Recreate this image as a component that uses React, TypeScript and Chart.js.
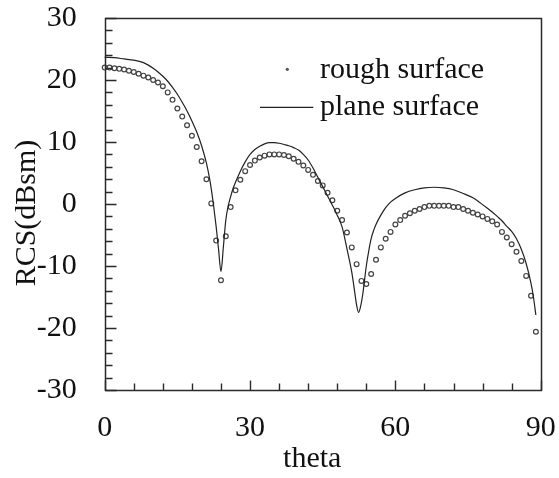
import React, { useEffect, useRef } from "react";
import { Chart, registerables } from "chart.js";

Chart.register(...registerables);

// ---- data ----
const roughTheta = [
  0, 1, 2, 3, 4, 5, 6, 7, 8, 9, 10, 11, 12, 13, 14, 15, 16, 17, 18, 19, 20, 21, 22, 23, 24, 25, 26, 27, 28, 29,
  30, 31, 32, 33, 34, 35, 36, 37, 38, 39, 40, 41, 42, 43, 44, 45, 46, 47, 48, 49, 50, 51, 52, 53, 54, 55, 56, 57, 58, 59,
  60, 61, 62, 63, 64, 65, 66, 67, 68, 69, 70, 71, 72, 73, 74, 75, 76, 77, 78, 79, 80, 81, 82, 83, 84, 85, 86, 87, 88, 89,
];
const roughRcs = [
  22.0, 22.0, 21.9, 21.8, 21.7, 21.5, 21.3, 21.0, 20.7, 20.4, 20.0, 19.6, 19.0, 18.0, 16.8, 15.4, 14.1, 12.7, 11.0, 9.2,
  6.9, 4.0, 0.1, -5.9, -12.3, -5.2, -0.5, 2.2, 3.9, 5.3,
  6.3, 7.0, 7.5, 7.8, 8.0, 8.0, 8.0, 7.9, 7.7, 7.3, 6.8, 6.2, 5.5, 4.7, 3.7, 3.0, 1.8, 0.6, -1.1, -2.6,
  -4.6, -7.0, -9.7, -12.4, -12.9, -11.3, -9.0, -7.0, -5.6, -4.5,
  -3.3, -2.6, -1.9, -1.5, -1.1, -0.8, -0.5, -0.3, -0.3, -0.3, -0.3, -0.3, -0.5, -0.5, -0.8, -1.1, -1.4, -1.7, -2.0, -2.4,
  -2.8, -3.3, -4.5, -5.4, -6.5, -7.7, -9.2, -11.6, -14.8, -20.6,
];

const planeTheta = [
  0, 2, 4, 6, 8, 9, 10, 11, 12, 13, 14, 15, 16, 17, 18, 19, 20, 21, 21.7, 22, 22.5, 23, 23.5, 24, 24.5, 25, 25.5, 26, 26.5, 27,
  28, 29, 30, 31, 32, 33, 34, 35, 36, 37, 38, 39, 40, 41, 42, 43, 44, 45, 46, 47, 48, 49, 50, 51, 51.5, 52, 52.4, 52.8, 53.3, 54,
  54.5, 55, 55.5, 56, 57, 58, 59, 60, 62, 64, 66, 68, 70, 72, 74, 76, 77, 78, 79, 80, 81, 82, 83, 84, 85, 86, 87, 88, 88.5, 89,
];
const planeRcs = [
  23.65, 23.6, 23.4, 23.2, 22.8, 22.4, 21.9, 21.3, 20.6, 19.8, 18.8, 17.7, 16.4, 15.0, 13.4, 11.6, 9.4, 6.6, 3.9, 2.4,
  -0.4, -3.6, -7.3, -10.9, -6.9, -2.6, -0.3, 1.2, 2.5, 3.5,
  5.3, 6.8, 8.0, 8.8, 9.3, 9.7, 9.9, 9.9, 9.8, 9.6, 9.4, 9.1, 8.7, 8.0, 7.1, 5.8, 4.3, 2.8, 1.3, -0.2,
  -1.8, -3.7, -7.2, -11.0, -13.6, -16.3, -17.5, -16.6, -14.4, -10.0,
  -7.6, -5.6, -4.3, -3.3, -1.8, -0.6, 0.3, 0.9, 1.8, 2.3, 2.6, 2.7, 2.6, 2.3, 1.7, 1.0, 0.5, -0.1, -0.7, -1.3,
  -2.0, -2.7, -3.6, -4.4, -5.6, -7.3, -9.6, -12.8, -15.0, -17.9,
];

const xTickLabels = [0, 30, 60, 90];
const yTickLabels = [-30, -20, -10, 0, 10, 20, 30];
const legendLabels = ["rough surface", "plane surface"];
const xTitle = "theta";
const yTitle = "RCS(dBsm)";

const FONT = '"Liberation Serif", "Times New Roman", serif';
const TEXT = "#111";
const AXIS = "#2a2a2a";

const framePlugin = {
  id: "frameTicksLegend",
  afterDraw(chart: any) {
    const ctx = chart.ctx as CanvasRenderingContext2D;
    const { left, top, right, bottom } = chart.chartArea;
    const xs = chart.scales.x;
    const ys = chart.scales.y;
    const L = Math.round(left) + 0.5;
    const R = Math.round(right) + 0.5;
    const T = Math.round(top) + 0.5;
    const B = Math.round(bottom) + 0.5;
    ctx.save();
    // frame
    ctx.strokeStyle = AXIS;
    ctx.lineWidth = 1.5;
    ctx.beginPath();
    ctx.moveTo(L, T);
    ctx.lineTo(R, T);
    ctx.lineTo(R, B);
    ctx.lineTo(L, B);
    ctx.closePath();
    ctx.stroke();
    // inner ticks
    ctx.lineWidth = 1.4;
    ctx.beginPath();
    for (let v = yTickLabels[0]; v <= yTickLabels[yTickLabels.length - 1]; v += 2) {
      const y = Math.round(ys.getPixelForValue(v)) + 0.5;
      const len = v % 10 === 0 ? 11 : 7;
      ctx.moveTo(L, y);
      ctx.lineTo(L + len, y);
    }
    for (let t = xTickLabels[0]; t <= xTickLabels[xTickLabels.length - 1]; t += 6) {
      const x = Math.round(xs.getPixelForValue(t)) + 0.5;
      const len = t % 30 === 0 ? 10 : 7;
      ctx.moveTo(x, B);
      ctx.lineTo(x, B - len);
    }
    ctx.stroke();

    // titles
    ctx.fillStyle = TEXT;
    ctx.font = `30px ${FONT}`;
    ctx.textBaseline = "middle";
    ctx.textAlign = "center";
    ctx.fillText(xTitle, (left + right) / 2 - 10.5, bottom + 69);
    ctx.save();
    ctx.translate(left - 78, (top + bottom) / 2 + 9);
    ctx.rotate(-Math.PI / 2);
    ctx.fillText(yTitle, 0, 0);
    ctx.restore();

    // legend
    ctx.textAlign = "left";
    ctx.beginPath();
    ctx.arc(left + 182.6, top + 51.3, 1.6, 0, Math.PI * 2);
    ctx.fillStyle = "#555";
    ctx.fill();
    ctx.fillStyle = TEXT;
    ctx.fillText(legendLabels[0], left + 215.3, top + 52);
    ctx.beginPath();
    ctx.moveTo(left + 155.3, top + 89.3);
    ctx.lineTo(left + 208.6, top + 89.3);
    ctx.strokeStyle = "#222";
    ctx.lineWidth = 1.3;
    ctx.stroke();
    ctx.fillText(legendLabels[1], left + 215.3, top + 89);
    ctx.restore();
  },
};

export default function App() {
  const ref = useRef<HTMLCanvasElement | null>(null);

  useEffect(() => {
    document.body.style.margin = "0";
    const canvas = ref.current;
    if (!canvas) return;
    const chart = new Chart(canvas, {
      type: "scatter",
      data: {
        datasets: [
          {
            label: legendLabels[1],
            data: planeTheta.map((t, i) => ({ x: t, y: planeRcs[i] })),
            showLine: true,
            borderColor: "#222",
            borderWidth: 1.2,
            pointRadius: 0,
            cubicInterpolationMode: "monotone",
            clip: false as any,
          },
          {
            label: legendLabels[0],
            data: roughTheta.map((t, i) => ({ x: t, y: roughRcs[i] })),
            showLine: false,
            pointStyle: "circle",
            pointRadius: 2.4,
            pointBorderWidth: 1.2,
            pointBorderColor: "#444",
            pointBackgroundColor: "rgba(0,0,0,0)",
            clip: false as any,
          },
        ],
      },
      options: {
        responsive: false,
        animation: false,
        devicePixelRatio: 1,
        layout: { padding: { top: 18, right: 18.3, left: 0, bottom: 0 } },
        plugins: {
          legend: { display: false },
          tooltip: { enabled: false },
        },
        scales: {
          x: {
            type: "linear",
            min: 0,
            max: 90,
            afterFit: (s: any) => {
              s.height = 88;
              s.paddingLeft = 0;
              s.paddingRight = 0;
            },
            afterBuildTicks: (s: any) => {
              s.ticks = xTickLabels.map((v) => ({ value: v }));
            },
            grid: { display: false, drawTicks: false },
            border: { display: false },
            ticks: {
              padding: 20,
              color: TEXT,
              maxRotation: 0,
              font: { family: FONT, size: 30, lineHeight: 1.2 },
            },
          },
          y: {
            type: "linear",
            min: -30,
            max: 30,
            afterFit: (s: any) => {
              s.width = 104.7;
              s.paddingTop = 0;
              s.paddingBottom = 0;
            },
            afterBuildTicks: (s: any) => {
              s.ticks = yTickLabels.map((v) => ({ value: v }));
            },
            grid: { display: false, drawTicks: false },
            border: { display: false },
            ticks: {
              padding: 28,
              color: TEXT,
              font: { family: FONT, size: 30, lineHeight: 1.0 },
            },
          },
        },
      },
      plugins: [framePlugin],
    });
    return () => chart.destroy();
  }, []);

  return (
    <div style={{ width: 559, height: 478 }}>
      <canvas ref={ref} width={559} height={478} style={{ display: "block" }} />
    </div>
  );
}
